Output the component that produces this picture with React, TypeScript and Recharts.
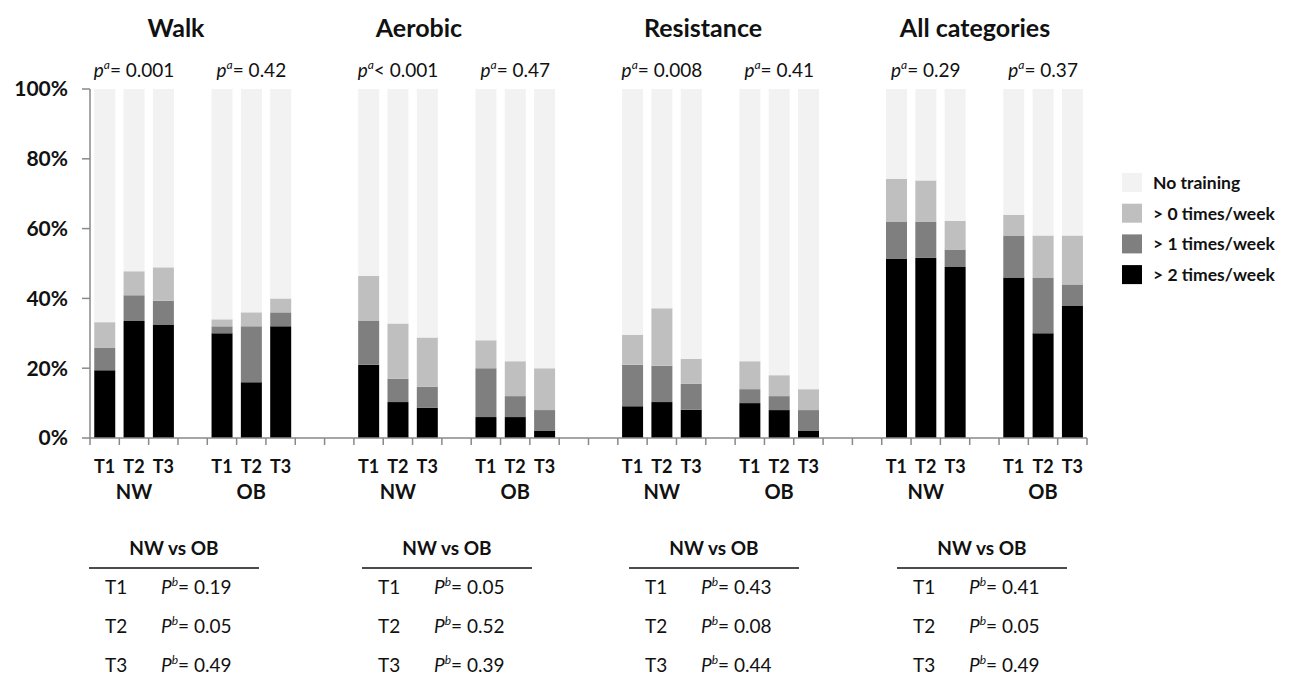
import { BarChart, Bar, XAxis, YAxis, LabelList } from "recharts";

const panels = ["Walk", "Aerobic", "Resistance", "All categories"];
const groups = ["NW", "OB"];
const timepoints = ["T1", "T2", "T3"];

// per panel: NW T1, T2, T3, OB T1, T2, T3 (percent of subjects)
const over2 = [
  19.4, 33.5, 32.5, 30, 16, 32,
  21.0, 10.3, 8.7, 6, 6, 2,
  9.1, 10.3, 8.1, 10, 8, 2,
  51.3, 51.6, 49.0, 46, 30, 38,
];
const over1 = [
  6.4, 7.4, 6.8, 2, 16, 4,
  12.7, 6.7, 6.0, 14, 6, 6,
  11.9, 10.4, 7.4, 4, 4, 6,
  10.6, 10.3, 5.0, 12, 16, 6,
];
const over0 = [
  7.4, 6.9, 9.6, 2, 4, 4,
  12.8, 15.8, 14.1, 8, 10, 12,
  8.6, 16.5, 7.2, 8, 6, 6,
  12.3, 11.9, 8.2, 6, 12, 14,
];
const noTraining = [
  66.8, 52.2, 51.1, 66, 64, 60,
  53.5, 67.2, 71.2, 72, 78, 80,
  70.4, 62.8, 77.3, 78, 82, 86,
  25.8, 26.2, 37.8, 36, 42, 42,
];

// p for trend over time, one per group (NW, OB) of each panel
const pTrend = ["= 0.001", "= 0.42", "< 0.001", "= 0.47", "= 0.008", "= 0.41", "= 0.29", "= 0.37"];
// NW vs OB, T1..T3 for each panel
const pBetween = [
  ["0.19", "0.05", "0.49"],
  ["0.05", "0.52", "0.39"],
  ["0.43", "0.08", "0.44"],
  ["0.41", "0.05", "0.49"],
];

const yTicks = [0, 20, 40, 60, 80, 100];

const series = [
  { key: "over2", name: "> 2 times/week", color: "#000000", values: over2 },
  { key: "over1", name: "> 1 times/week", color: "#7f7f7f", values: over1 },
  { key: "over0", name: "> 0 times/week", color: "#bfbfbf", values: over0 },
  { key: "none", name: "No training", color: "#f2f2f2", values: noTraining },
];

type Row = { id: string; tp: string; group: string; p?: string; [k: string]: any };

const rows: Row[] = [];
panels.forEach((_, p) => {
  groups.forEach((group, g) => {
    timepoints.forEach((tp, t) => {
      const i = p * 6 + g * 3 + t;
      const row: Row = { id: `${p}-${g}-${t}`, tp, group: t === 1 ? group : "" };
      if (t === 1) row.p = pTrend[p * 2 + g];
      series.forEach((s) => (row[s.key] = s.values[i]));
      rows.push(row);
    });
    const gaps = g === 0 ? 1 : p < panels.length - 1 ? 2 : 0;
    for (let b = 0; b < gaps; b++) rows.push({ id: `gap-${p}-${g}-${b}`, tp: "", group: "" });
  });
});

const FONT = "Lato, 'Open Sans', sans-serif";
const AXIS = "#898989";
const W = 1308;
const H = 683;
const PLOT_LEFT = 90;
const PLOT_RIGHT = 1087;
const PLOT_TOP = 89;
const PLOT_BOTTOM = 438;
const slot = (PLOT_RIGHT - PLOT_LEFT) / rows.length;

const titleX = [176, 419, 703, 975];
const tableLeft = [89, 362, 629, 897];

function XTick(props: any) {
  const { x, y, payload } = props;
  const idx = payload.index;
  const row = rows[idx];
  const half = payload.offset ? payload.offset : slot / 2;
  return (
    <g>
      <line x1={x - half} x2={x - half} y1={y} y2={y + 7} stroke={AXIS} strokeWidth={1.5} />
      {idx === rows.length - 1 && (
        <line x1={x + half} x2={x + half} y1={y} y2={y + 7} stroke={AXIS} strokeWidth={1.5} />
      )}
      {row && row.tp && (
        <text x={x} y={y + 35} textAnchor="middle" fontFamily={FONT} fontWeight={700} fontSize={18} fill="#111">
          {row.tp}
        </text>
      )}
      {row && row.group && (
        <text x={x} y={y + 61} textAnchor="middle" fontFamily={FONT} fontWeight={700} fontSize={20} fill="#111">
          {row.group}
        </text>
      )}
    </g>
  );
}

function PLabel(props: any) {
  const { x, y, width, value } = props;
  if (!value) return null;
  return (
    <text x={x + width / 2} y={y - 12} textAnchor="middle" fontFamily={FONT} fontSize={19} fill="#111">
      <tspan fontStyle="italic">p</tspan>
      <tspan fontStyle="italic" fontSize={12} dy={-8}>a</tspan>
      <tspan dy={8}>{value}</tspan>
    </text>
  );
}

export default function App() {
  return (
    <div style={{ position: "absolute", left: 0, top: 0, width: W, height: H, background: "#fff" }}>
      <BarChart
        width={W}
        height={H}
        data={rows}
        margin={{ top: PLOT_TOP, right: W - PLOT_RIGHT, bottom: H - PLOT_BOTTOM - 70, left: 0 }}
        barCategoryGap="14.5%"
      >
        <XAxis
          dataKey="id"
          interval={0}
          height={70}
          tickSize={0}
          tickMargin={0}
          tickLine={false}
          stroke={AXIS}
          strokeWidth={1.5}
          tick={<XTick />}
        />
        <YAxis
          width={PLOT_LEFT}
          domain={[0, 100]}
          ticks={yTicks}
          tickFormatter={(v) => `${v}%`}
          tickSize={8}
          tickMargin={14}
          stroke={AXIS}
          strokeWidth={1.5}
          tick={{ fontFamily: FONT, fontWeight: 700, fontSize: 21, fill: "#111" }}
        />
        {series.map((s) => (
          <Bar key={s.key} dataKey={s.key} name={s.name} stackId="a" fill={s.color} isAnimationActive={false}>
            {s.key === "none" && <LabelList dataKey="p" content={<PLabel />} />}
          </Bar>
        ))}
      </BarChart>

      <svg width={W} height={H} style={{ position: "absolute", left: 0, top: 0, pointerEvents: "none" }}>
        {panels.map((name, p) => (
          <text key={name} x={titleX[p]} y={37} textAnchor="middle" fontFamily={FONT} fontWeight={700} fontSize={25} fill="#111">
            {name}
          </text>
        ))}

        {[...series].reverse().map((s, i) => (
          <g key={s.key}>
            <rect x={1122} y={173 + i * 30.7} width={20} height={19} fill={s.color} />
            <text x={1153} y={189 + i * 30.7} fontFamily={FONT} fontWeight={700} fontSize={17.5} fill="#111">
              {s.name}
            </text>
          </g>
        ))}

        {pBetween.map((vals, p) => {
          const left = tableLeft[p];
          return (
            <g key={p} fontFamily={FONT} fill="#111">
              <text x={left + 85} y={555} textAnchor="middle" fontWeight={700} fontSize={19}>
                NW vs OB
              </text>
              <line x1={left} x2={left + 170} y1={568} y2={568} stroke="#111" strokeWidth={1.5} />
              {vals.map((v, t) => (
                <g key={t}>
                  <text x={left + 16} y={594 + t * 39} fontSize={19}>
                    {timepoints[t]}
                  </text>
                  <text x={left + 72} y={594 + t * 39} fontSize={19}>
                    <tspan fontStyle="italic">P</tspan>
                    <tspan fontStyle="italic" fontSize={12} dy={-8}>b</tspan>
                    <tspan dy={8}>= {v}</tspan>
                  </text>
                </g>
              ))}
            </g>
          );
        })}
      </svg>
    </div>
  );
}
